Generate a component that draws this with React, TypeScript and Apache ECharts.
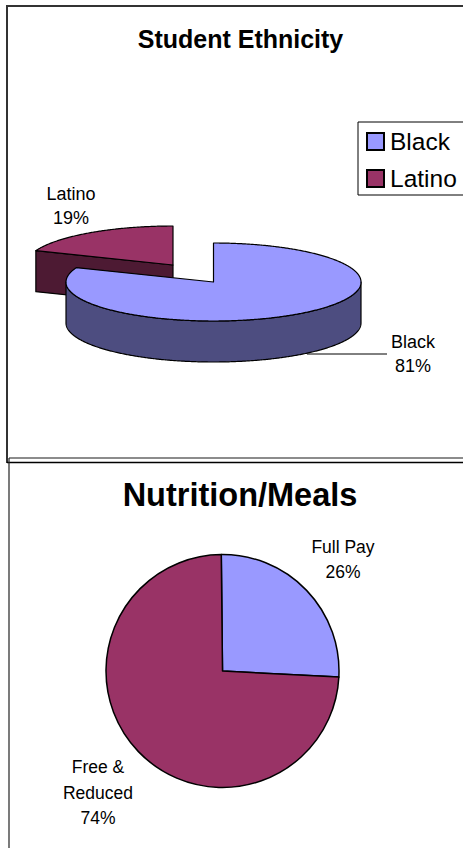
import React, { useEffect, useRef } from "react";
import * as echarts from "echarts";

const ethnicityNames = ["Black", "Latino"];
const ethnicityValues = [81, 19];
const mealNames = ["Full Pay", "Free &\nReduced"];
const mealValues = [26, 74];
const titles = ["Student Ethnicity", "Nutrition/Meals"];

const SANS = '"Liberation Sans", Arial, sans-serif';
const BLUE = "#9999FF";
const PLUM = "#993366";
const BLUE_DARK = "#4D4D80";
const PLUM_DARK = "#4D1A33";

const total3d = ethnicityValues.reduce((a, b) => a + b, 0);
const RX = 147.5;
const RY = 39;
const DEPTH = 41;

function rim(cx: number, cy: number, from: number, to: number, dy = 0) {
  const pts: number[][] = [];
  const n = Math.max(2, Math.ceil(Math.abs(to - from) * 2));
  for (let i = 0; i <= n; i++) {
    const t = ((from + ((to - from) * i) / n) * Math.PI) / 180;
    pts.push([cx + RX * Math.sin(t), cy - RY * Math.cos(t) + dy]);
  }
  return pts;
}

const lineStyle = (fill: string) => ({ fill, stroke: "#000", lineWidth: 1.2, lineJoin: "round" as const });
const labelFont = `18px ${SANS}`;

function blackItem(_: any, api: any) {
  const cx = 213.5, cy = 282;
  const sweep = (api.value(0) / total3d) * 360;
  return {
    type: "group",
    children: [
      {
        type: "polygon",
        shape: { points: [...rim(cx, cy, 90, 270), ...rim(cx, cy, 270, 90, DEPTH)] },
        style: lineStyle(BLUE_DARK),
      },
      {
        type: "polygon",
        shape: { points: [[cx, cy], ...rim(cx, cy, 0, sweep)] },
        style: lineStyle(BLUE),
      },
      { type: "line", shape: { x1: 307, y1: 354, x2: 387, y2: 354 }, style: { stroke: "#000", lineWidth: 1 } },
      {
        type: "text",
        style: {
          text: `${ethnicityNames[0]}\n${api.value(0)}%`,
          x: 413, y: 330, fill: "#000", font: labelFont, align: "center", verticalAlign: "top", lineHeight: 24,
        },
      },
    ],
  };
}

function latinoItem(_: any, api: any) {
  const cx = 173, cy = 265;
  const start = ((total3d - api.value(0)) / total3d) * 360;
  const tip = rim(cx, cy, start, start)[0];
  return {
    type: "group",
    children: [
      {
        type: "polygon",
        shape: { points: [tip, [cx, cy], [cx, cy + DEPTH], [tip[0], tip[1] + DEPTH]] },
        style: lineStyle(PLUM_DARK),
      },
      {
        type: "polygon",
        shape: { points: [[cx, cy], ...rim(cx, cy, start, 360)] },
        style: lineStyle(PLUM),
      },
      {
        type: "text",
        style: {
          text: `${ethnicityNames[1]}\n${api.value(0)}%`,
          x: 71, y: 182, fill: "#000", font: labelFont, align: "center", verticalAlign: "top", lineHeight: 24,
        },
      },
    ],
  };
}

const mealLabelPos = [
  { x: 343, y: 559.5 },
  { x: 98, y: 792.5 },
];

export default function App() {
  const ref = useRef<HTMLDivElement>(null);
  useEffect(() => {
    const chart = echarts.init(ref.current!, undefined, { renderer: "svg" });
    chart.setOption({
      animation: false,
      backgroundColor: "#fff",
      title: [
        {
          text: titles[0], left: 235.5, top: 21, textAlign: "center",
          textStyle: { fontFamily: SANS, fontSize: 25, fontWeight: "bold", color: "#000" },
        },
        {
          text: titles[1], left: 235, top: 473, textAlign: "center",
          textStyle: { fontFamily: SANS, fontSize: 32.5, fontWeight: "bold", color: "#000" },
        },
      ],
      legend: {
        data: ethnicityNames,
        orient: "vertical",
        left: 358,
        top: 122,
        padding: [7, 10, 4, 8],
        itemWidth: 17,
        itemHeight: 17,
        itemGap: 12,
        icon: "rect",
        backgroundColor: "#fff",
        borderColor: "#000",
        borderWidth: 1,
        textStyle: { fontFamily: SANS, fontSize: 24.5, color: "#000", padding: [0, 0, 0, 1] },
      },
      graphic: [
        { type: "line", shape: { x1: 6, y1: 6, x2: 463, y2: 6 }, style: { stroke: "#333", lineWidth: 2 } },
        { type: "line", shape: { x1: 7, y1: 6, x2: 7, y2: 463 }, style: { stroke: "#333", lineWidth: 2 } },
        { type: "line", shape: { x1: 7, y1: 462.5, x2: 463, y2: 462.5 }, style: { stroke: "#000", lineWidth: 1.5 } },
        { type: "line", shape: { x1: 9, y1: 458, x2: 463, y2: 458 }, style: { stroke: "#666", lineWidth: 1.5 } },
        { type: "line", shape: { x1: 9, y1: 458, x2: 9, y2: 848 }, style: { stroke: "#222", lineWidth: 1.2 } },
      ],
      series: [
        {
          type: "custom",
          name: ethnicityNames[1],
          coordinateSystem: "none",
          z: 2,
          itemStyle: { color: PLUM, borderColor: "#000", borderWidth: 1 },
          data: [[ethnicityValues[1]]],
          renderItem: latinoItem,
        },
        {
          type: "custom",
          name: ethnicityNames[0],
          coordinateSystem: "none",
          z: 3,
          itemStyle: { color: BLUE, borderColor: "#000", borderWidth: 1 },
          data: [[ethnicityValues[0]]],
          renderItem: blackItem,
        },
        {
          type: "pie",
          name: titles[1],
          center: [222.5, 671],
          radius: 116.5,
          startAngle: 90.6,
          clockwise: true,
          silent: true,
          itemStyle: { borderColor: "#000", borderWidth: 1.5 },
          label: {
            show: true, position: "outside", formatter: "{b}\n{d}%", color: "#000",
            fontFamily: SANS, fontSize: 17.5, lineHeight: 25.5, align: "center",
          },
          labelLine: { show: false },
          labelLayout: (p: any) => ({
            x: mealLabelPos[p.dataIndex].x,
            y: mealLabelPos[p.dataIndex].y,
            align: "center",
            verticalAlign: "middle",
          }),
          data: mealNames.map((name, i) => ({
            name,
            value: mealValues[i],
            itemStyle: { color: i === 0 ? BLUE : PLUM },
          })),
        },
      ],
    });
    return () => chart.dispose();
  }, []);
  return <div ref={ref} style={{ position: "absolute", left: 0, top: 0, width: 463, height: 848 }} />;
}
